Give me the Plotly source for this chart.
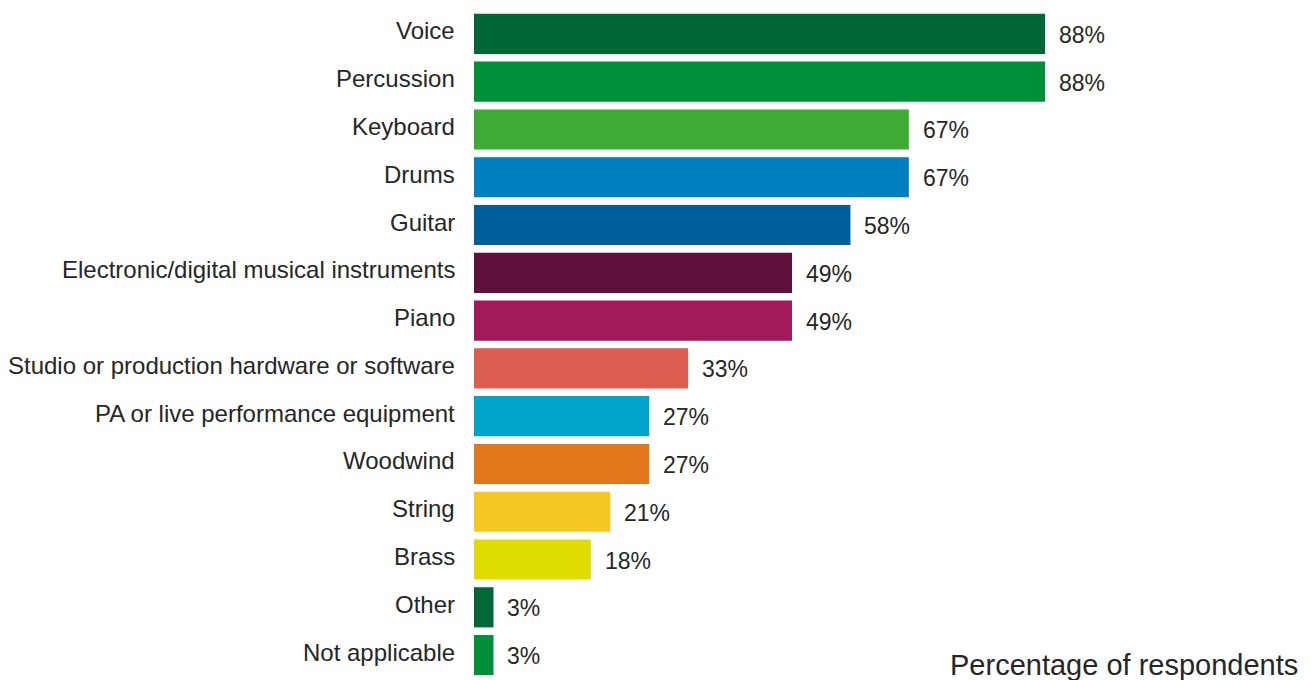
import plotly.graph_objects as go

# Instruments used, share of respondents (%)
categories = [
    "Voice",
    "Percussion",
    "Keyboard",
    "Drums",
    "Guitar",
    "Electronic/digital musical instruments",
    "Piano",
    "Studio or production hardware or software",
    "PA or live performance equipment",
    "Woodwind",
    "String",
    "Brass",
    "Other",
    "Not applicable",
]
values = [88, 88, 67, 67, 58, 49, 49, 33, 27, 27, 21, 18, 3, 3]
value_labels = ["88%", "88%", "67%", "67%", "58%", "49%", "49%", "33%",
                "27%", "27%", "21%", "18%", "3%", "3%"]
colors = [
    "#006837", "#008f39", "#3dab35", "#0080bf", "#005e9c", "#5e113b",
    "#a31a5a", "#dc5e50", "#00a3cb", "#e1761b", "#f6c623", "#dedc00",
    "#006837", "#008f39",
]
axis_title = "Percentage of respondents"

FONT = "Liberation Sans, Arial, sans-serif"
TEXT_COLOR = "#262626"

fig = go.Figure()
fig.add_trace(go.Bar(
    x=values,
    y=categories,
    orientation="h",
    marker=dict(color=colors, line=dict(width=0)),
    hoverinfo="skip",
))

# Category names to the left of the bars, sitting slightly above centre
for cat in categories:
    fig.add_annotation(
        x=0, y=cat, text=cat, showarrow=False,
        xanchor="right", yanchor="middle", xshift=-17, yshift=3,
        font=dict(family=FONT, size=24, color=TEXT_COLOR),
    )

# Value labels just past the end of each bar
for cat, val, lab in zip(categories, values, value_labels):
    fig.add_annotation(
        x=val, y=cat, text=lab, showarrow=False,
        xanchor="left", yanchor="middle", xshift=12, yshift=-1,
        font=dict(family=FONT, size=23, color=TEXT_COLOR),
    )

# Axis caption in the bottom-right corner
fig.add_annotation(
    x=1.0, y=0.0, xref="paper", yref="paper", text=axis_title,
    showarrow=False, xanchor="right", yanchor="middle",
    xshift=177, yshift=14,
    font=dict(family=FONT, size=29, color=TEXT_COLOR),
)

fig.update_layout(
    width=1311,
    height=680,
    margin=dict(l=474, r=188, t=10, b=1),
    paper_bgcolor="white",
    plot_bgcolor="white",
    bargap=0.16,
    showlegend=False,
    font=dict(family=FONT, size=23, color=TEXT_COLOR),
    xaxis=dict(range=[0, 100], visible=False, fixedrange=True),
    yaxis=dict(
        autorange="reversed",
        showgrid=False, zeroline=False, showline=False,
        ticks="", showticklabels=False,
        fixedrange=True,
    ),
)

fig.write_html("out.html", config={"displayModeBar": False})
